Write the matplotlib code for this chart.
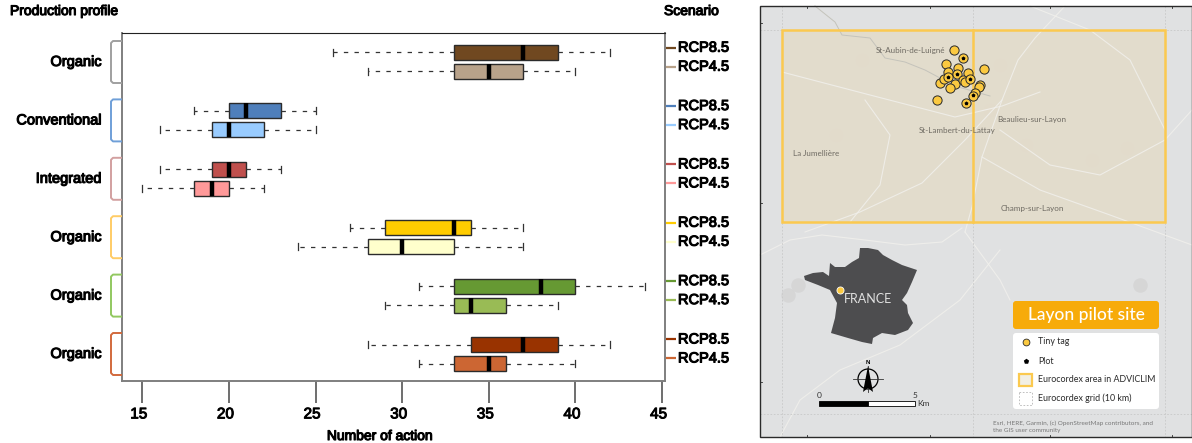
import matplotlib
matplotlib.use('Agg')
import matplotlib.pyplot as plt
import matplotlib.patheffects as pe
from matplotlib.patches import Polygon, Rectangle, FancyBboxPatch, Circle
from matplotlib.transforms import ScaledTranslation

# box plot values, top to bottom, RCP8.5 then RCP4.5 in every group
profiles = ['Organic', 'Conventional', 'Integrated', 'Organic', 'Organic', 'Organic']
scenarios = ['RCP8.5', 'RCP4.5']
whisker_low = [26, 28, 18, 16, 16, 15, 27, 24, 31, 29, 28, 31]
q1 = [33, 33, 20, 19, 19, 18, 29, 28, 33, 33, 34, 33]
median = [37, 35, 21, 20, 20, 19, 33, 30, 38, 34, 37, 35]
q3 = [39, 37, 23, 22, 21, 20, 34, 33, 40, 36, 39, 36]
whisker_high = [42, 40, 25, 25, 23, 22, 37, 37, 44, 39, 42, 40]
box_colors = ['#704820', '#b8a28a', '#4f7fbb', '#99ccff', '#c0504d', '#ff9999',
              '#ffcc00', '#ffffcc', '#669933', '#99bb55', '#993300', '#cc6633']
bracket_colors = ['#a0a0a0', '#6f9fd8', '#d2a0a0', '#ffcc66', '#92c860', '#d2693c']
x_ticks = [15, 20, 25, 30, 35, 40, 45]

# map content, in picture pixels
tag_x = [954, 963, 946, 984, 958, 948, 957, 968, 940, 944, 948, 955, 950, 963, 965, 970, 980, 979, 975, 973, 937, 966]
tag_y = [50, 58, 64, 69, 68, 72, 74, 73, 83, 79, 77, 84, 88, 80, 82, 79, 85, 87, 93, 96, 100, 103]
plot_x = [963, 957, 948, 970, 973, 966]
plot_y = [58, 74, 77, 79, 95, 103]
towns = ['St-Aubin-de-Luigné', 'Beaulieu-sur-Layon', 'St-Lambert-du-Lattay', 'La Jumellière', 'Champ-sur-Layon']
town_x = [911, 1032, 957, 816, 1032]
town_y = [50, 119, 130, 153, 208]
france_x = [804, 813, 823, 829, 830, 835, 845, 852, 859, 860, 868, 878, 883, 892, 902, 917, 912, 907, 902, 907, 908, 913, 908, 895, 882, 873, 872, 862, 848, 831, 835, 837, 830, 818, 805]
france_y = [276, 273, 272, 276, 263, 267, 267, 262, 258, 248, 248, 250, 255, 260, 265, 270, 282, 293, 300, 305, 313, 323, 330, 335, 333, 338, 344, 342, 338, 333, 318, 303, 290, 285, 280]
settle_x = [788, 798, 990, 1026, 862, 836, 1127, 1092, 1140, 1040, 1000]
settle_y = [295, 285, 110, 145, 60, 135, 148, 160, 285, 310, 65]
roads = [
    [(1065, 6), (1035, 38), (1018, 60), (1002, 100), (982, 157), (972, 207), (965, 232)],
    [(782, 72), (870, 95), (955, 117), (1002, 106), (1040, 92)],
    [(805, 232), (860, 212), (922, 183), (965, 140), (1002, 100)],
    [(760, 255), (790, 240), (822, 235), (865, 240), (905, 245), (942, 242), (962, 228)],
    [(1000, 130), (1050, 165), (1100, 175), (1165, 140), (1192, 110)],
    [(1030, 6), (1090, 30), (1130, 60), (1150, 100), (1165, 130)],
    [(965, 232), (1000, 280), (1010, 300)],
    [(780, 437), (800, 400), (840, 370), (900, 345), (960, 300), (1000, 250)],
    [(982, 157), (1040, 190), (1110, 215), (1192, 245)],
    [(865, 100), (890, 135), (880, 185), (850, 222)],
]
river = [(815, 6), (835, 22), (842, 35), (870, 38), (885, 58), (905, 62), (925, 70), (955, 86), (990, 96)]
frame_ticks_x = [807, 930, 1050, 1172]
frame_ticks_y = [23, 203, 382]

plt.rcParams['font.family'] = ['Liberation Sans', 'DejaVu Sans']
fig = plt.figure(figsize=(11.92, 4.43), dpi=100)
W, H = 1192., 443.

# box plot panel
left, right, top, bottom = 122., 665., 33., 381.
ax = fig.add_axes([left/W, 1-bottom/H, (right-left)/W, (bottom-top)/H])
first_row, group_gap, pair_gap = 52., 58.5, 19.3
rows = []
for g in range(len(profiles)):
    rows += [first_row + g*group_gap, first_row + g*group_gap + pair_gap]
stats = []
for i in range(len(rows)):
    stats.append(dict(whislo=whisker_low[i], q1=q1[i], med=median[i], q3=q3[i],
                      whishi=whisker_high[i], fliers=[]))
parts = ax.bxp(stats, positions=rows, widths=15, vert=False, patch_artist=True,
               showfliers=False, manage_ticks=False,
               boxprops=dict(edgecolor='#2b2b2b', linewidth=1),
               medianprops=dict(color='black', linewidth=3.2, solid_capstyle='butt'),
               whiskerprops=dict(color='#333333', linewidth=0.9, linestyle=(0, (3.5, 5))),
               capprops=dict(color='#333333', linewidth=0.9))
for box, col in zip(parts['boxes'], box_colors):
    box.set_facecolor(col)
for cap in parts['caps']:
    y0, y1 = cap.get_ydata()
    mid = (y0+y1)/2.
    cap.set_ydata([mid-3.5, mid+3.5])
ax.set_xlim(13.83, 45.17)
ax.set_ylim(bottom, top)
ax.set_yticks([])
ax.set_xticks(x_ticks)
ax.tick_params(axis='x', length=16, width=1.2, color='#555555', pad=3, labelsize=11)
off = ScaledTranslation(-2.5/72, 0, fig.dpi_scale_trans)
for lab in ax.get_xticklabels():
    lab.set_transform(lab.get_transform() + off)
    lab.set_path_effects([pe.withStroke(linewidth=0.7, foreground='black')])
for s in ['left', 'bottom', 'right']:
    ax.spines[s].set_color('#7f7f7f')
    ax.spines[s].set_linewidth(1.4)
ax.spines['top'].set_color('#222222')

# overlay in picture pixels, for labels, brackets and the map
ov = fig.add_axes([0, 0, 1, 1], zorder=5)
ov.set_xlim(0, W)
ov.set_ylim(H, 0)
ov.axis('off')
heavy = [pe.withStroke(linewidth=0.8, foreground='black')]


def label(x, y, s, size=10.5, ha='left'):
    ov.text(x, y, s, fontsize=size, ha=ha, va='center', color='black', path_effects=heavy)


label(10, 11, 'Production profile', size=10)
label(664, 11, 'Scenario', size=10)
label(380, 436, 'Number of action', size=10, ha='center')

for g, name in enumerate(profiles):
    y0 = 41 + g*58.4
    y1 = y0 + 42
    label(102, (y0+y1)/2., name, size=10.5, ha='right')
    ov.plot([121, 113, 111, 111, 113, 121], [y0, y0, y0+2, y1-2, y1, y1],
            color=bracket_colors[g], lw=1.4)
    for k, scen in enumerate(scenarios):
        yy = 47.7 + g*58.35 + k*19
        ov.plot([666, 676], [yy, yy], color=box_colors[2*g+k], lw=1.6, solid_capstyle='butt')
        label(678, yy, scen, size=10.5)

# map panel
m_l, m_r, m_t, m_b = 760., 1192., 6., 437.
bg = Rectangle((m_l, m_t), m_r-m_l, m_b-m_t, fc='#e0e1e2', ec='none', zorder=1)
ov.add_patch(bg)
ov.scatter(settle_x, settle_y, s=110, c='#d4d4d4', marker='o', linewidths=0, alpha=0.8, zorder=1.05)
area = Rectangle((782, 30), 383, 192, fc='#e3dccb', ec='none', alpha=0.93, zorder=1.1)
ov.add_patch(area)
for road in roads:
    xs, ys = zip(*road)
    ov.plot(xs, ys, color='#f1f0ec', lw=0.8, alpha=0.85, zorder=1.2)
xs, ys = zip(*river)
ov.plot(xs, ys, color='#c4c3bb', lw=0.7, zorder=1.25)
for xx in [782, 973, 1165]:
    ov.plot([xx, xx], [m_t, m_b], color='#c8c8c8', lw=0.6, ls=(0, (2, 2)), zorder=1.3)
for yy in [30, 414]:
    ov.plot([m_l, m_r], [yy, yy], color='#c8c8c8', lw=0.6, ls=(0, (2, 2)), zorder=1.3)
ov.add_patch(Rectangle((782, 30), 383, 192, fc='none', ec='#fbc94f', lw=1.8, zorder=1.5))
ov.plot([973, 973], [30, 222], color='#fbc94f', lw=1.8, zorder=1.5)
ov.add_patch(Rectangle((m_l, m_t), m_r-m_l, m_b-m_t, fc='none', ec='#2a2a2a', lw=1, zorder=6))
for xx in frame_ticks_x:
    ov.plot([xx, xx], [m_t, m_t+2], color='#2a2a2a', lw=0.6, zorder=6)
    ov.plot([xx, xx], [m_b-2, m_b], color='#2a2a2a', lw=0.6, zorder=6)
for yy in frame_ticks_y:
    ov.plot([m_l, m_l+2], [yy, yy], color='#2a2a2a', lw=0.6, zorder=6)

for i, t in enumerate(towns):
    ov.text(town_x[i], town_y[i], t, fontsize=5.8, family='Lato', color='#6e6a62',
            ha='center', va='center', zorder=2)
ov.scatter(tag_x, tag_y, s=44, c='#fbc940', edgecolors='#2a2a2a', linewidths=0.7, zorder=3)
ov.scatter(plot_x, plot_y, s=9, c='black', marker='p', linewidths=0, zorder=4)

# France inset
ov.add_patch(Polygon(list(zip(france_x, france_y)), closed=True, fc='#4d4d4f', ec='none', zorder=2))
ov.scatter([840], [290], s=26, c='#fbc940', edgecolors='white', linewidths=0.6, zorder=3)
ov.text(868, 299, 'FRANCE', fontsize=9, family='Lato', color='#e0e0e0', ha='center', va='center', zorder=3)

# north arrow and scale bar
ov.add_patch(Circle((868, 379), 10, fc='none', ec='black', lw=0.9, zorder=3))
ov.plot([853, 883], [379, 379], color='#333333', lw=0.6, zorder=3)
ov.plot([868, 868], [366, 392], color='#333333', lw=0.6, zorder=3)
ov.add_patch(Polygon([(868, 366), (863, 392), (868, 388), (873, 392)], closed=True, fc='black', ec='none', zorder=3))
ov.text(868, 362, 'N', fontsize=4.5, weight='bold', ha='center', va='center', zorder=3)
ov.add_patch(Rectangle((819, 401), 49, 5, fc='black', ec='black', lw=0.6, zorder=3))
ov.add_patch(Rectangle((868, 401), 47, 5, fc='white', ec='black', lw=0.6, zorder=3))
ov.text(819, 396, '0', fontsize=6, family='Lato', ha='center', va='center', color='#333333', zorder=3)
ov.text(915, 396, '5', fontsize=6, family='Lato', ha='center', va='center', color='#333333', zorder=3)
ov.text(917, 403, 'Km', fontsize=6, family='Lato', ha='left', va='center', color='#333333', zorder=3)

# legend of the map
ov.add_patch(FancyBboxPatch((1015, 303), 142, 24, boxstyle='round,pad=2,rounding_size=3',
                            fc='#f7ab0a', ec='none', zorder=3))
ov.text(1086, 315, 'Layon pilot site', fontsize=12.5, family='Lato', weight='medium', color='white',
        ha='center', va='center', zorder=4)
ov.add_patch(FancyBboxPatch((1015, 335), 142, 72, boxstyle='round,pad=2,rounding_size=3',
                            fc='white', ec='none', zorder=3))
ov.scatter([1026], [342], s=24, c='#fbc940', edgecolors='#2a2a2a', linewidths=0.6, zorder=4)
ov.scatter([1026], [361], s=16, c='black', marker='p', linewidths=0, zorder=4)
ov.add_patch(Rectangle((1019, 374), 13, 12, fc='#f2efe4', ec='#fbc94f', lw=1.6, zorder=4))
ov.add_patch(Rectangle((1019, 392), 13, 13, fc='white', ec='#b5b5b5', lw=0.6, ls=(0, (2, 2)), zorder=4))
legend_text = ['Tiny tag', 'Plot', 'Eurocordex area in ADVICLIM', 'Eurocordex grid (10 km)']
legend_y = [342, 361, 380, 398]
for s, yy in zip(legend_text, legend_y):
    ov.text(1038, yy, s, fontsize=6.4, family='Lato', color='#2a2a2a', ha='left', va='center', zorder=4)
ov.text(993, 426.5, 'Esri, HERE, Garmin, (c) OpenStreetMap contributors, and\nthe GIS user community',
        fontsize=4.6, family='Lato', color='#777777', ha='left', va='center', linespacing=1.5, zorder=4)

fig.savefig('out.png', dpi=100)
